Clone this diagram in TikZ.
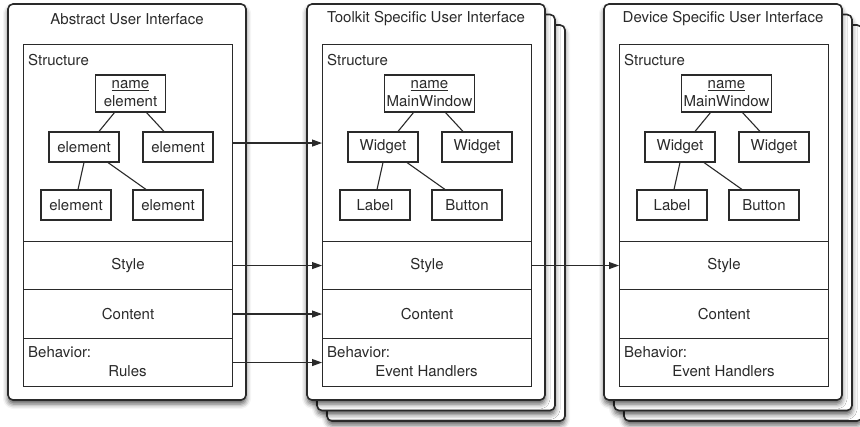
\documentclass[tikz,border=0pt]{standalone}
\usepackage{fontspec}
\setmainfont{TeX Gyre Heros}
\usetikzlibrary{arrows.meta,shadows.blur}
\definecolor{frame}{HTML}{2A2A2A}
\tikzset{
  sheet/.style={draw=frame,line width=1.6pt,fill=white,rounded corners=5pt,
    blur shadow={shadow xshift=0pt,shadow yshift=-4pt,shadow blur radius=5pt,shadow opacity=65}},
  part/.style={draw=frame,line width=1.1pt,minimum width=209pt,inner sep=0pt,anchor=north west},
  elem/.style={draw=frame,line width=1.1pt,minimum width=70pt,minimum height=30pt,inner sep=4pt},
  link/.style={draw=frame,line width=1.1pt},
  caption/.style={anchor=base west,inner sep=0pt},
}
\begin{document}
\begin{tikzpicture}[x=1pt,y=-1pt,>={Stealth[length=10pt,width=7pt,inset=0pt]},font=\fontsize{15}{18}\selectfont,text=frame]
\useasboundingbox (0,0) rectangle (860,427);
% stacked copies behind the two concrete interfaces
\foreach \ox in {307,604}{
  \draw[sheet] (\ox+20,25) rectangle ++(238,396);
  \draw[sheet] (\ox+10,14.5) rectangle ++(238,396);
}
\foreach \i/\ox/\ttl/\rt/\ka/\kb/\la/\lb/\bh in {
  1/8/Abstract User Interface/element/element/element/element/element/Rules,
  2/307/Toolkit Specific User Interface/MainWindow/Widget/Widget/Label/Button/Event Handlers,
  3/604/Device Specific User Interface/MainWindow/Widget/Widget/Label/Button/Event Handlers}{
  \draw[sheet] (\ox,4) rectangle ++(238,396);
  \node (ttl\i) at (\ox+119,19) {\ttl};
  \node[part,minimum height=197pt] (st\i) at (\ox+15,44) {};
  \node[caption] (stl\i) at (\ox+20,66) {Structure};
  \node[part,minimum height=48pt] (sty\i) at (\ox+15,241) {Style};
  \node[part,minimum height=49pt] (con\i) at (\ox+15,289) {Content};
  \node[part,minimum height=48pt] (beh\i) at (\ox+15,338) {};
  \node[caption] (bhl\i) at (\ox+20,358) {Behavior:};
  \node[anchor=base] (bht\i) at (\ox+119.5,377) {\bh};
  % tree
  \node[elem,minimum height=37pt,align=center,inner sep=2pt] (root\i) at (\ox+122.5,93.5) {\underline{name}\\\rt};
  \node[elem] (kidl\i) at (\ox+76,147) {\ka};
  \node[elem] (kidr\i) at (\ox+170,147) {\kb};
  \node[elem] (leafl\i) at (\ox+68,205) {\la};
  \node[elem] (leafr\i) at (\ox+160,205) {\lb};
  \draw[link] ([xshift=-16pt]root\i.south) -- ([xshift=15pt]kidl\i.north);
  \draw[link] ([xshift=16pt]root\i.south) -- ([xshift=-14pt]kidr\i.north);
  \draw[link] (kidl\i.south) -- ([xshift=2pt]leafl\i.north);
  \draw[link] ([xshift=24pt]kidl\i.south) -- ([xshift=-22pt]leafr\i.north);
}
\draw[link,->] (st1.east) -- (st2.west);
\draw[link,->] (sty1.east) -- (sty2.west);
\draw[link,->] (con1.east) -- (con2.west);
\draw[link,->] (beh1.east) -- (beh2.west);
\draw[link,->] (sty2.east) -- (sty3.west);
\end{tikzpicture}
\end{document}
